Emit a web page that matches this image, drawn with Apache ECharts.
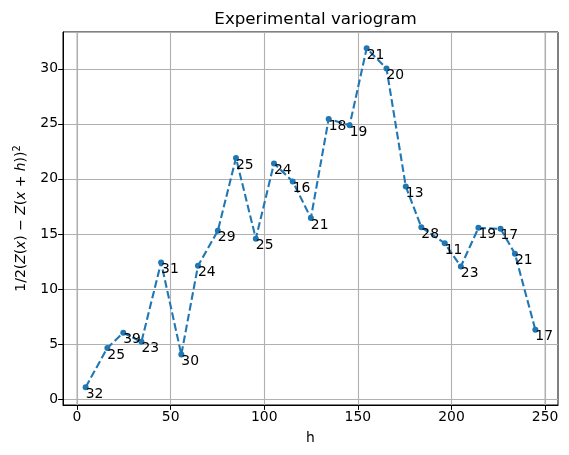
<!DOCTYPE html>
<html>
<head>
<meta charset="utf-8">
<script src="https://cdn.jsdelivr.net/npm/echarts@6/dist/echarts.min.js"></script>
<style>
  html, body { margin: 0; padding: 0; background: #fff; }
  #chart { width: 569px; height: 455px; }
</style>
</head>
<body>
<div id="chart"></div>
<script>
// lag distances (h) and semivariance values
var lags = [4.6, 16.2, 24.7, 34.4, 44.9, 55.7, 64.6, 75.2, 84.9, 95.5, 105.2, 115.2, 124.9,
            134.4, 145.6, 154.7, 165.3, 175.6, 183.9, 196.4, 205.0, 214.4, 226.2, 233.9, 244.8];
var gamma = [1.07, 4.64, 6.02, 5.19, 12.4, 4.03, 12.1, 15.28, 21.9, 14.57, 21.4, 19.77, 16.44,
             25.45, 24.87, 31.87, 30.03, 19.31, 15.61, 14.15, 12.04, 15.55, 15.46, 13.2, 6.29];
// number of pairs in each lag bin
var pairs = [32, 25, 39, 23, 31, 30, 24, 29, 25, 25, 24, 16, 21,
             18, 19, 21, 20, 13, 28, 11, 23, 19, 17, 21, 17];
var xTicks = [0, 50, 100, 150, 200, 250];
var xRange = [-7.5, 256.9];
var yRange = [-0.55, 33.35];

var chart = echarts.init(document.getElementById('chart'));

var points = [];
for (var i = 0; i < lags.length; i++) {
    points.push({value: [lags[i], gamma[i]], pairs: pairs[i]});
}

var font = 'DejaVu Sans';

// the automatic splitLine leaves out the outer ticks (0 and 250) because
// min/max are not round, so those two grid lines come from a custom series
var outerTicks = [xTicks[0], xTicks[xTicks.length - 1]];
var gridSeries = {
    type: 'custom',
    silent: true,
    z: 1,
    clip: false,
    data: outerTicks.map(function (t) { return [t]; }),
    renderItem: function (params, api) {
        var top = api.coord([api.value(0), yRange[1]]);
        var bottom = api.coord([api.value(0), yRange[0]]);
        return {
            type: 'line',
            shape: {x1: top[0], y1: top[1], x2: bottom[0], y2: bottom[1]},
            style: {stroke: '#b0b0b0', lineWidth: 1.1}
        };
    }
};

var option = {
    animation: false,
    title: {
        text: 'Experimental variogram',
        left: 310.5,
        textAlign: 'center',
        top: 6,
        textStyle: {fontFamily: font, fontSize: 16.7, fontWeight: 'normal', color: '#000'}
    },
    grid: {
        left: 63, right: 11, top: 32, bottom: 50,
        show: true, borderColor: '#000', borderWidth: 1
    },
    xAxis: {
        type: 'value',
        min: xRange[0], max: xRange[1],
        name: 'h',
        nameLocation: 'middle',
        nameGap: 26,
        nameTextStyle: {fontFamily: font, fontSize: 13.9, color: '#000'},
        axisLine: {show: true, onZero: false, lineStyle: {color: '#000', width: 1}},
        axisTick: {show: true, length: 4.9, lineStyle: {color: '#000', width: 1}, customValues: xTicks},
        axisLabel: {fontFamily: font, fontSize: 13.9, color: '#000', margin: 5, customValues: xTicks},
        splitLine: {show: true, lineStyle: {color: '#b0b0b0', width: 1.1}}
    },
    yAxis: {
        type: 'value',
        min: yRange[0], max: yRange[1],
        name: '{n|1/2(}{i|Z}{n|(}{i|x}{n|) − }{i|Z}{n|(}{i|x}{n| + }{i|h}{n|))}{s|2}',
        nameLocation: 'middle',
        nameRotate: 90,
        nameGap: 33,
        nameTextStyle: {
            rich: {
                n: {fontFamily: font, fontSize: 13.9, color: '#000'},
                i: {fontFamily: font, fontSize: 13.9, fontStyle: 'italic', color: '#000'},
                s: {fontFamily: font, fontSize: 9.7, color: '#000', verticalAlign: 'top', padding: [0, 0, 8, 0]}
            }
        },
        axisLine: {show: true, onZero: false, lineStyle: {color: '#000', width: 1}},
        axisTick: {show: true, length: 4.9, lineStyle: {color: '#000', width: 1}},
        axisLabel: {fontFamily: font, fontSize: 13.9, color: '#000', margin: 5,
                    showMinLabel: false, showMaxLabel: false},
        splitLine: {show: true, lineStyle: {color: '#b0b0b0', width: 1.1}}
    },
    series: [gridSeries, {
        type: 'line',
        data: points,
        z: 3,
        symbol: 'circle',
        symbolSize: 6,
        showAllSymbol: true,
        itemStyle: {color: '#1f77b4'},
        lineStyle: {color: '#1f77b4', width: 2.1, type: [7.7, 3.3]},
        label: {
            show: true,
            position: [3, 3],
            formatter: function (p) { return String(p.data.pairs); },
            fontFamily: font,
            fontSize: 13.9,
            color: '#000'
        }
    }]
};

chart.setOption(option);
</script>
</body>
</html>
